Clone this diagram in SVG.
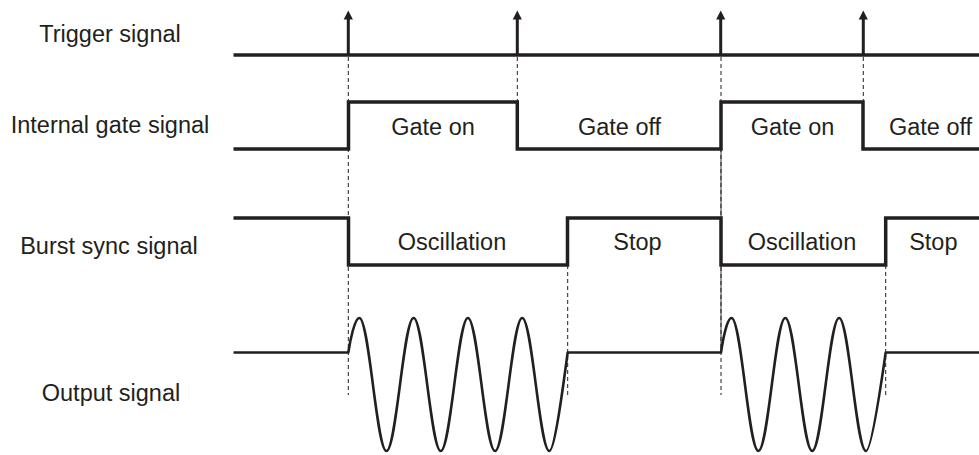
<svg xmlns="http://www.w3.org/2000/svg" width="979" height="455" viewBox="0 0 979 455">
<style>
text{font-family:"Liberation Sans",Arial,sans-serif;font-size:23.5px;fill:#231f20;text-anchor:middle}
.sig{fill:none;stroke:#231f20;stroke-width:3.5;stroke-linejoin:miter;stroke-linecap:butt}
.wave{fill:none;stroke:#231f20;stroke-width:2.6;stroke-linejoin:round}
.dash{fill:none;stroke:#231f20;stroke-width:1;stroke-dasharray:4 3}
.thin{fill:none;stroke:#231f20;stroke-width:0.9}
.stem{fill:none;stroke:#231f20;stroke-width:3}
</style>
<defs>
<polygon id="head" points="0,-44.5 -4.6,-35.5 4.6,-35.5" fill="#231f20"/>
</defs>
<g id="labels">
<text x="110" y="41.5">Trigger signal</text>
<text x="110" y="132.5">Internal gate signal</text>
<text x="109" y="254">Burst sync signal</text>
<text x="111" y="400.5">Output signal</text>
</g>
<g id="connectors">
<path class="dash" d="M348.3 57V395M517.3 57V102M567.7 265V395M721 57V395M863.3 57V102M885.7 265V395"/>
<path class="thin" d="M721 150V353"/>
</g>
<g id="trigger">
<path class="sig" d="M233.5 55H979"/>
<path class="stem" d="M348.3 55V19M517.3 55V19M720.7 55V19M863.3 55V19"/>
<use href="#head" x="348.3" y="55"/>
<use href="#head" x="517.3" y="55"/>
<use href="#head" x="720.7" y="55"/>
<use href="#head" x="863.3" y="55"/>
</g>
<g id="gate">
<path class="sig" d="M233.5 149H348.5V102H517.3V149H721V102H863V149H979"/>
<text x="433" y="134.5">Gate on</text>
<text x="619.5" y="134.5">Gate off</text>
<text x="792.5" y="134.5">Gate on</text>
<text x="930.5" y="134.5">Gate off</text>
</g>
<g id="burst">
<path class="sig" d="M233.5 218H348.5V265H567.5V218H721V265H885.7V218H979"/>
<text x="452" y="249.7">Oscillation</text>
<text x="637.5" y="249.7">Stop</text>
<text x="802" y="249.7">Oscillation</text>
<text x="933.3" y="249.7">Stop</text>
</g>
<g id="output">
<path class="wave" d="M233.5 352.5H348.3C350.1 340.5 354.8 318 359.3 318C369.2 318 376.6 451 386.45 451S403.7 318 413.6 318S430.9 451 440.75 451S458 318 467.9 318S485.2 451 495.05 451S512.3 318 522.2 318S539.5 451 549.35 451C555.35 451 565.5 367.3 567.7 352.5H721C722.8 340.5 727 318 731.5 318C741.3 318 748.6 451 758.4 451S775.5 318 785.3 318S802.4 451 812.2 451S829.3 318 839.1 318S856.2 451 866 451C872 451 883.5 367.3 885.7 352.5H979"/>
</g>
</svg>
